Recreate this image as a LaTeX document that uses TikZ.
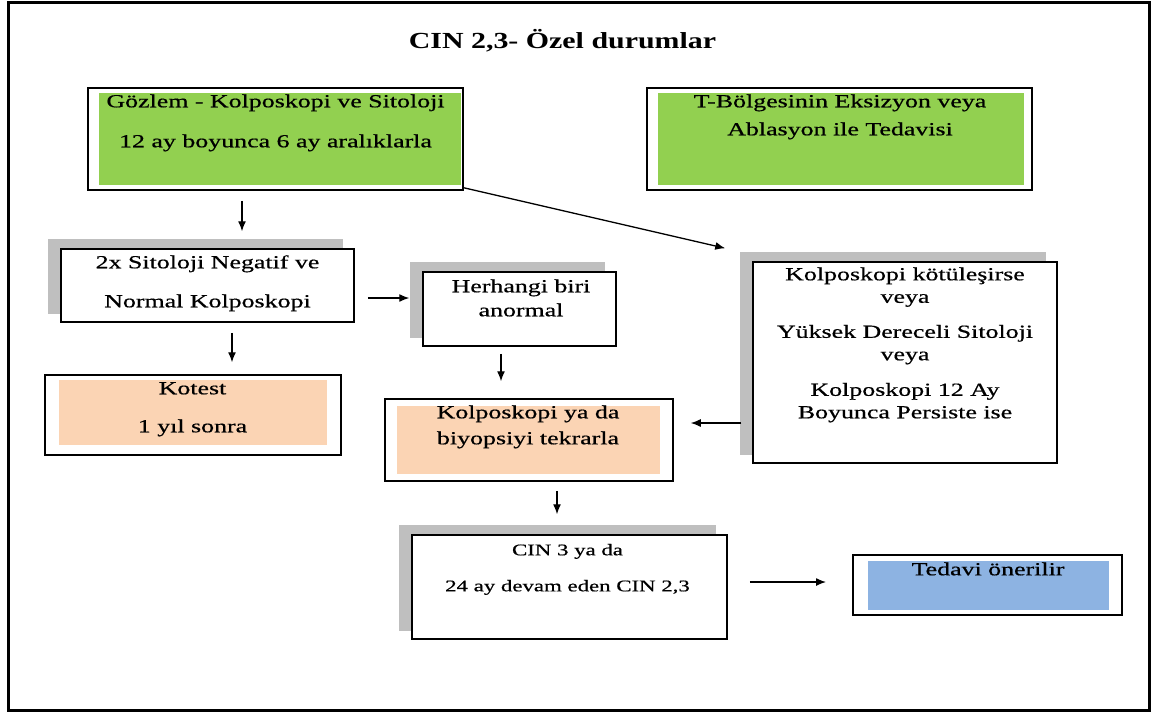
\documentclass[tikz,border=0pt]{standalone}
\usepackage{fontspec}
\setmainfont{Liberation Serif}
\newfontfamily\bodyfont[FakeStretch=1.4,FakeBold=0.6]{Liberation Serif}
\newfontfamily\headfont[FakeStretch=1.3]{Liberation Serif}
\usetikzlibrary{arrows.meta}
\definecolor{leaf}{HTML}{92D050}
\definecolor{peach}{HTML}{FBD4B4}
\definecolor{sky}{HTML}{8DB3E2}
\definecolor{shadowgray}{HTML}{BFBFBF}
\tikzset{
  panel/.style={draw=black, fill=white, line width=1.5pt, inner sep=0pt},
  heavypanel/.style={draw=black, fill=white, line width=2.4pt, inner sep=0pt},
  label/.style={align=center, inner sep=0pt, anchor=mid, font=\bodyfont\fontsize{18.5}{21}\selectfont},
  arr/.style={line width=1.3pt, -{Latex[length=10pt,width=8pt]}},
}
% grey drop shadow up and to the left of a box
\newcommand{\shadowbox}[1]{%
  \fill[shadowgray] ([xshift=-12pt,yshift=9pt]#1.north west) rectangle ([xshift=-12pt,yshift=9pt]#1.south east);}
\begin{document}
\begin{tikzpicture}[x=1pt,y=-1pt]
\useasboundingbox (0,0) rectangle (1153,713);
% outer frame
\draw[line width=3pt] (8,2.5) rectangle (1149.5,710);

% title
\node[anchor=base, inner sep=0pt, font=\headfont\bfseries\fontsize{23}{26}\selectfont] (title) at (562.5,48) {CIN 2,3- Özel durumlar};

% top row (label positions give the last line)
\node[panel, minimum width=375pt, minimum height=102pt] (g) at (275.5,139) {};
\fill[leaf] ([xshift=12pt,yshift=-6pt]g.north west) rectangle ([xshift=-3pt,yshift=6pt]g.south east);
\node[label, font=\bodyfont\fontsize{18.5}{40}\selectfont] (gt) at (275.5,145) {Gözlem - Kolposkopi ve Sitoloji\\12 ay boyunca 6 ay aralıklarla};

\node[heavypanel, minimum width=385pt, minimum height=102pt] (t) at (839.5,139) {};
\fill[leaf] ([xshift=12pt,yshift=-6pt]t.north west) rectangle ([xshift=-9pt,yshift=6pt]t.south east);
\node[label, font=\bodyfont\fontsize{18.5}{28}\selectfont] (tt) at (840,133) {T-Bölgesinin Eksizyon veya\\Ablasyon ile Tedavisi};

% left column
\node[panel, minimum width=293pt, minimum height=73pt] (s) at (207.5,285.5) {};
\shadowbox{s}
\node[panel, minimum width=293pt, minimum height=73pt] at (s) {};
\node[label, font=\bodyfont\fontsize{18.5}{39}\selectfont] (st) at (207.5,305) {2x Sitoloji Negatif ve\\Normal Kolposkopi};

\node[panel, minimum width=296pt, minimum height=80pt] (k) at (193,415) {};
\fill[peach] ([xshift=15pt,yshift=-6pt]k.north west) rectangle ([xshift=-15pt,yshift=11pt]k.south east);
\node[label, font=\bodyfont\fontsize{18.5}{38}\selectfont] (kt) at (192.5,430) {Kotest\\1 yıl sonra};

% middle column
\node[panel, minimum width=193pt, minimum height=74pt] (h) at (519.5,309) {};
\shadowbox{h}
\node[panel, minimum width=193pt, minimum height=74pt] at (h) {};
\node[label, font=\bodyfont\fontsize{18.5}{24}\selectfont] (ht) at (521,314) {Herhangi biri\\anormal};

\node[panel, minimum width=288pt, minimum height=82pt] (r) at (529,440) {};
\fill[peach] ([xshift=13pt,yshift=-8pt]r.north west) rectangle ([xshift=-14pt,yshift=8pt]r.south east);
\node[label, font=\bodyfont\fontsize{18.5}{26}\selectfont] (rt) at (528,442) {Kolposkopi ya da\\biyopsiyi tekrarla};

\node[panel, minimum width=315pt, minimum height=104pt] (c) at (569.5,587) {};
\shadowbox{c}
\node[panel, minimum width=315pt, minimum height=104pt] at (c) {};
\node[label, font=\bodyfont\fontsize{16.3}{36}\selectfont] (ct) at (567.5,589) {CIN 3 ya da\\24 ay devam eden CIN 2,3};

% right column
\node[panel, minimum width=304pt, minimum height=201pt] (p) at (905,362.5) {};
\shadowbox{p}
\node[panel, minimum width=304pt, minimum height=201pt] at (p) {};
\node[label, font=\bodyfont\fontsize{18.5}{22.5}\selectfont] (pt) at (905,416)
  {Kolposkopi kötüleşirse\\veya\\[12.5pt]Yüksek Dereceli Sitoloji\\veya\\[13pt]Kolposkopi 12 Ay\\Boyunca Persiste ise};

\node[heavypanel, line width=2pt, minimum width=269pt, minimum height=60pt] (v) at (987.5,585) {};
\fill[sky] ([xshift=16pt,yshift=-7pt]v.north west) rectangle ([xshift=-14pt,yshift=6pt]v.south east);
\node[label] (vt) at (988,573) {Tedavi önerilir};

% connectors
\draw[arr] ([xshift=-33.5pt,yshift=-10pt]g.south) -- ([xshift=34.5pt,yshift=17pt]s.north);
\draw[arr] ([yshift=3pt]g.south east) -- ([xshift=-27pt,yshift=13pt]p.north west);
\draw[arr] ([xshift=24.5pt,yshift=-10pt]s.south) -- ([xshift=39pt,yshift=12pt]k.north);
\draw[arr] ([xshift=13pt,yshift=-12.5pt]s.east) -- ([xshift=-13pt,yshift=11pt]h.west);
\draw[arr] ([xshift=-18.5pt,yshift=-7pt]h.south) -- ([xshift=-28pt,yshift=17pt]r.north);
\draw[arr] ([xshift=-11pt,yshift=-60.5pt]p.west) -- ([xshift=17pt,yshift=17pt]r.east);
\draw[arr] ([xshift=28pt,yshift=-9pt]r.south) -- ([xshift=-12.5pt,yshift=20pt]c.north);
\draw[arr] ([xshift=22pt,yshift=5pt]c.east) -- ([xshift=-26pt,yshift=3pt]v.west);
\end{tikzpicture}
\end{document}
